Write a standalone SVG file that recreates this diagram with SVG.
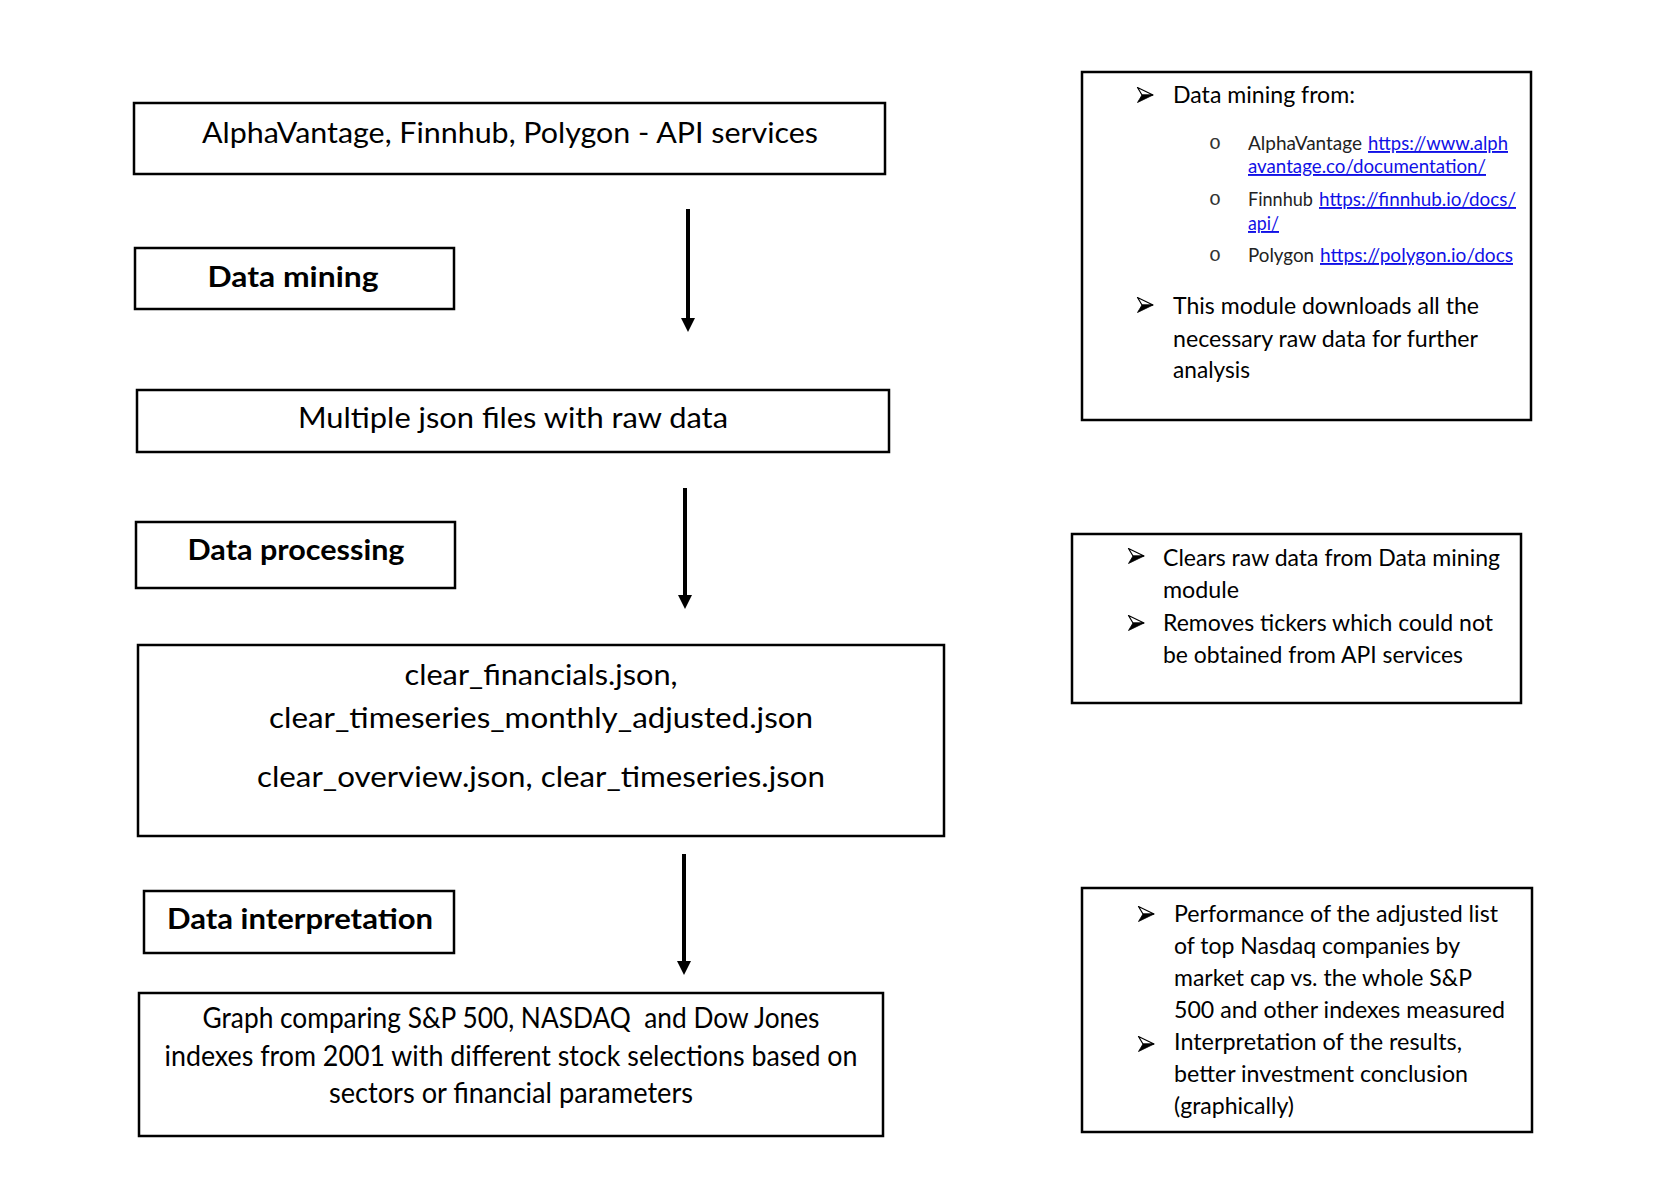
<svg xmlns="http://www.w3.org/2000/svg" xmlns:xlink="http://www.w3.org/1999/xlink" width="1653" height="1198" viewBox="0 0 1653 1198">
<style>
.box{fill:#fff;stroke:#000;stroke-width:2.5}
text{font-family:Lato,"Liberation Sans",sans-serif;fill:#000}
.lg{font-size:28px;text-anchor:middle}
.hd{font-size:28px;font-weight:bold;text-anchor:middle}
.rt{font-size:23px}
.sm{font-size:19px;fill:#222}
.lk{fill:#1010e6;text-decoration:underline}
.ob{font-family:"Liberation Mono",monospace;font-size:20px;fill:#333;text-anchor:middle}
.conn{stroke:#000;stroke-width:4;fill:none;marker-end:url(#ah)}
</style>
<defs>
<marker id="ah" markerUnits="userSpaceOnUse" markerWidth="14" markerHeight="14" refX="6" refY="7" orient="auto">
<path d="M0,0 L14,7 L0,14 Z" fill="#000"/>
</marker>
<g id="bul">
<path d="M0.5,0.5 L16,8 L5,8 Z" fill="#fff" stroke="#000" stroke-width="1.2" stroke-linejoin="round"/>
<path d="M5,8 L16,8 L0.5,15.5 Z" fill="#000" stroke="#000" stroke-width="0.8" stroke-linejoin="round"/>
</g>
</defs>
<rect width="1653" height="1198" fill="#fff"/>

<g id="connectors">
<line class="conn" x1="688" y1="209" x2="688" y2="324"/>
<line class="conn" x1="685" y1="488" x2="685" y2="601"/>
<line class="conn" x1="684" y1="854" x2="684" y2="967"/>
</g>

<g id="api-services">
<rect class="box" x="134" y="103" width="751" height="71"/>
<text class="lg" x="510" y="143" textLength="616" lengthAdjust="spacingAndGlyphs">AlphaVantage, Finnhub, Polygon - API services</text>
</g>

<g id="data-mining">
<rect class="box" x="135" y="248" width="319" height="61"/>
<text class="hd" x="293" y="287" textLength="171" lengthAdjust="spacingAndGlyphs">Data mining</text>
</g>

<g id="raw-json">
<rect class="box" x="137" y="390" width="752" height="62"/>
<text class="lg" x="513" y="428" textLength="430" lengthAdjust="spacingAndGlyphs">Multiple json files with raw data</text>
</g>

<g id="data-processing">
<rect class="box" x="136" y="522" width="319" height="66"/>
<text class="hd" x="296" y="560" textLength="217" lengthAdjust="spacingAndGlyphs">Data processing</text>
</g>

<g id="clear-files">
<rect class="box" x="138" y="645" width="806" height="191"/>
<text class="lg" x="541" y="685" textLength="273" lengthAdjust="spacingAndGlyphs">clear_financials.json,</text>
<text class="lg" x="541" y="728" textLength="544" lengthAdjust="spacingAndGlyphs">clear_timeseries_monthly_adjusted.json</text>
<text class="lg" x="541" y="787" textLength="568" lengthAdjust="spacingAndGlyphs">clear_overview.json, clear_timeseries.json</text>
</g>

<g id="data-interpretation">
<rect class="box" x="144" y="891" width="310" height="62"/>
<text class="hd" x="300" y="929" textLength="266" lengthAdjust="spacingAndGlyphs">Data interpretation</text>
</g>

<g id="graph">
<rect class="box" x="139" y="993" width="744" height="143"/>
<text class="lg" x="511" y="1028" textLength="617" lengthAdjust="spacingAndGlyphs" xml:space="preserve" style="white-space:pre">Graph comparing S&amp;P 500, NASDAQ  and Dow Jones</text>
<text class="lg" x="511" y="1066" textLength="693" lengthAdjust="spacingAndGlyphs">indexes from 2001 with different stock selections based on</text>
<text class="lg" x="511" y="1103" textLength="364" lengthAdjust="spacingAndGlyphs">sectors or financial parameters</text>
</g>

<g id="note-mining">
<rect class="box" x="1082" y="72" width="449" height="348"/>
<use xlink:href="#bul" href="#bul" x="1137" y="87"/>
<text class="rt" x="1173" y="103" font-size="22" textLength="182" lengthAdjust="spacingAndGlyphs">Data mining from:</text>
<text class="ob" x="1215" y="149">o</text>
<text class="sm" x="1248" y="150" textLength="114" lengthAdjust="spacingAndGlyphs">AlphaVantage</text>
<text class="sm lk" x="1368" y="150" textLength="140" lengthAdjust="spacingAndGlyphs">https://www.alph</text>
<text class="sm lk" x="1248" y="173" textLength="238" lengthAdjust="spacingAndGlyphs">avantage.co/documentation/</text>
<text class="ob" x="1215" y="205">o</text>
<text class="sm" x="1248" y="206" textLength="65" lengthAdjust="spacingAndGlyphs">Finnhub</text>
<text class="sm lk" x="1319" y="206" textLength="197" lengthAdjust="spacingAndGlyphs">https://finnhub.io/docs/</text>
<text class="sm lk" x="1248" y="230" textLength="31" lengthAdjust="spacingAndGlyphs">api/</text>
<text class="ob" x="1215" y="261">o</text>
<text class="sm" x="1248" y="262" textLength="66" lengthAdjust="spacingAndGlyphs">Polygon</text>
<text class="sm lk" x="1320" y="262" textLength="193" lengthAdjust="spacingAndGlyphs">https://polygon.io/docs</text>
<use xlink:href="#bul" href="#bul" x="1137" y="297"/>
<text class="rt" x="1173" y="314" textLength="306" lengthAdjust="spacingAndGlyphs">This module downloads all the</text>
<text class="rt" x="1173" y="347" textLength="305" lengthAdjust="spacingAndGlyphs">necessary raw data for further</text>
<text class="rt" x="1173" y="378" textLength="77" lengthAdjust="spacingAndGlyphs">analysis</text>
</g>

<g id="note-processing">
<rect class="box" x="1072" y="534" width="449" height="169"/>
<use xlink:href="#bul" href="#bul" x="1128" y="548"/>
<text class="rt" x="1163" y="566" textLength="337" lengthAdjust="spacingAndGlyphs">Clears raw data from Data mining</text>
<text class="rt" x="1163" y="598" textLength="76" lengthAdjust="spacingAndGlyphs">module</text>
<use xlink:href="#bul" href="#bul" x="1128" y="615"/>
<text class="rt" x="1163" y="631" textLength="330" lengthAdjust="spacingAndGlyphs">Removes tickers which could not</text>
<text class="rt" x="1163" y="663" textLength="300" lengthAdjust="spacingAndGlyphs">be obtained from API services</text>
</g>

<g id="note-interpretation">
<rect class="box" x="1082" y="888" width="450" height="244"/>
<use xlink:href="#bul" href="#bul" x="1138" y="906"/>
<text class="rt" x="1174" y="922" textLength="324" lengthAdjust="spacingAndGlyphs">Performance of the adjusted list</text>
<text class="rt" x="1174" y="954" textLength="286" lengthAdjust="spacingAndGlyphs">of top Nasdaq companies by</text>
<text class="rt" x="1174" y="986" textLength="298" lengthAdjust="spacingAndGlyphs">market cap vs. the whole S&amp;P</text>
<text class="rt" x="1174" y="1018" textLength="331" lengthAdjust="spacingAndGlyphs">500 and other indexes measured</text>
<use xlink:href="#bul" href="#bul" x="1138" y="1036"/>
<text class="rt" x="1174" y="1050" textLength="288" lengthAdjust="spacingAndGlyphs">Interpretation of the results,</text>
<text class="rt" x="1174" y="1082" textLength="294" lengthAdjust="spacingAndGlyphs">better investment conclusion</text>
<text class="rt" x="1174" y="1114" textLength="120" lengthAdjust="spacingAndGlyphs">(graphically)</text>
</g>
</svg>
